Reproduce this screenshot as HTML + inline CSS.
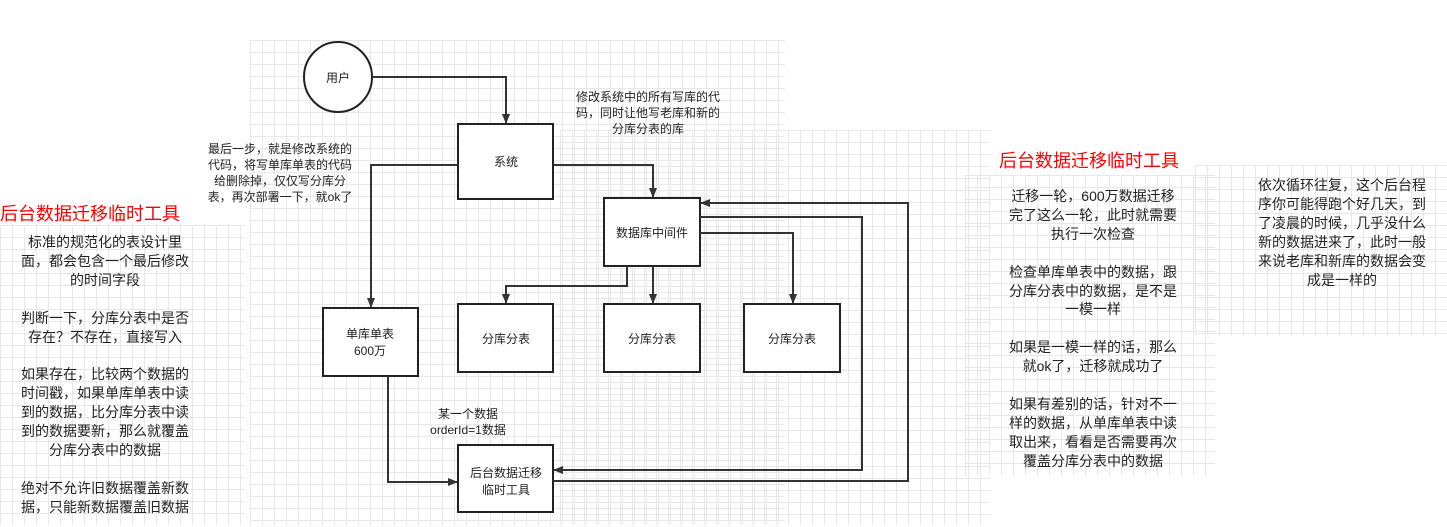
<!DOCTYPE html>
<html><head><meta charset="utf-8"><style>
body{margin:0;width:1447px;height:527px;background:#fff;position:relative;overflow:hidden;font-family:"Liberation Sans","Noto Sans CJK SC",sans-serif;}
.g{position:absolute;background-image:linear-gradient(#e8e8e8 1px,transparent 1px),linear-gradient(90deg,#e8e8e8 1px,transparent 1px);background-size:12px 12px;}
.t{position:absolute;text-align:center;color:#222;white-space:nowrap;}
.r{position:absolute;color:#f00;font-size:18px;white-space:nowrap;}
</style></head><body>
<div class="g" style="left:250px;top:40px;width:535px;height:485px"></div>
<div class="g" style="left:560px;top:130px;width:430px;height:395px"></div>
<div class="g" style="left:0;top:225px;width:245px;height:300px"></div>
<div class="g" style="left:965px;top:175px;width:250px;height:300px"></div>
<div class="g" style="left:1195px;top:165px;width:252px;height:170px"></div>
<svg width="1447" height="527" style="position:absolute;left:0;top:0" font-family="Liberation Sans, Noto Sans CJK SC, sans-serif" font-size="12">
<defs><marker id="a" markerWidth="10" markerHeight="10" refX="9" refY="5" orient="auto" markerUnits="userSpaceOnUse"><path d="M0,1 L10,5 L0,9 z" fill="#333"/></marker></defs>
<g fill="#fff" stroke="#222" stroke-width="2">
<ellipse cx="338" cy="77" rx="34" ry="35"/>
<rect x="458" y="124" width="95" height="75"/>
<rect x="323" y="308" width="95" height="68"/>
<rect x="458" y="304" width="95" height="68"/>
<rect x="604" y="304" width="96" height="68"/>
<rect x="744" y="304" width="96" height="68"/>
<rect x="604" y="198" width="96" height="68"/>
<rect x="458" y="445" width="95" height="67"/>
</g>
<g fill="none" stroke="#333" stroke-width="2" marker-end="url(#a)">
<polyline points="372,77 506,77 506,123"/>
<polyline points="458,165 371,165 371,307"/>
<polyline points="553,165 653,165 653,197"/>
<polyline points="627,266 627,286 506,286 506,303"/>
<polyline points="653,266 653,303"/>
<polyline points="700,233 793,233 793,303"/>
<polyline points="700,217 862,217 862,470 554,470"/>
<polyline points="553,481 908,481 908,203 701,203"/>
<polyline points="388,376 388,482 457,482"/>
</g>
<g text-anchor="middle" fill="#222">
<text x="338" y="82">用户</text>
<text x="506" y="166">系统</text>
<text x="652" y="237">数据库中间件</text>
<text x="370" y="338">单库单表</text>
<text x="370" y="355">600万</text>
<text x="506" y="343">分库分表</text>
<text x="652" y="343">分库分表</text>
<text x="792" y="343">分库分表</text>
<text x="506" y="477">后台数据迁移</text>
<text x="506" y="494">临时工具</text>
<text x="468" y="418">某一个数据</text>
<text x="468" y="434">orderId=1数据</text>
<text x="648" y="101">修改系统中的所有写库的代</text>
<text x="648" y="117">码，同时让他写老库和新的</text>
<text x="648" y="133">分库分表的库</text>
<text x="280" y="153">最后一步，就是修改系统的</text>
<text x="280" y="169">代码，将写单库单表的代码</text>
<text x="280" y="185">给删除掉，仅仅写分库分</text>
<text x="280" y="201">表，再次部署一下，就ok了</text>
</g>
</svg>
<div class="r" style="left:0;top:200px">后台数据迁移临时工具</div>
<div class="t" style="left:5px;top:233px;width:200px;font-size:14px;line-height:18.9px">标准的规范化的表设计里<br>面，都会包含一个最后修改<br>的时间字段<br><br>判断一下，分库分表中是否<br>存在？不存在，直接写入<br><br>如果存在，比较两个数据的<br>时间戳，如果单库单表中读<br>到的数据，比分库分表中读<br>到的数据要新，那么就覆盖<br>分库分表中的数据<br><br>绝对不允许旧数据覆盖新数<br>据，只能新数据覆盖旧数据</div>
<div class="r" style="left:999px;top:147px">后台数据迁移临时工具</div>
<div class="t" style="left:993px;top:187px;width:200px;font-size:14px;line-height:18.9px">迁移一轮，600万数据迁移<br>完了这么一轮，此时就需要<br>执行一次检查<br><br>检查单库单表中的数据，跟<br>分库分表中的数据，是不是<br>一模一样<br><br>如果是一模一样的话，那么<br>就ok了，迁移就成功了<br><br>如果有差别的话，针对不一<br>样的数据，从单库单表中读<br>取出来，看看是否需要再次<br>覆盖分库分表中的数据</div>
<div class="t" style="left:1242px;top:176px;width:200px;font-size:14px;line-height:19px">依次循环往复，这个后台程<br>序你可能得跑个好几天，到<br>了凌晨的时候，几乎没什么<br>新的数据进来了，此时一般<br>来说老库和新库的数据会变<br>成是一样的</div>
</body></html>
